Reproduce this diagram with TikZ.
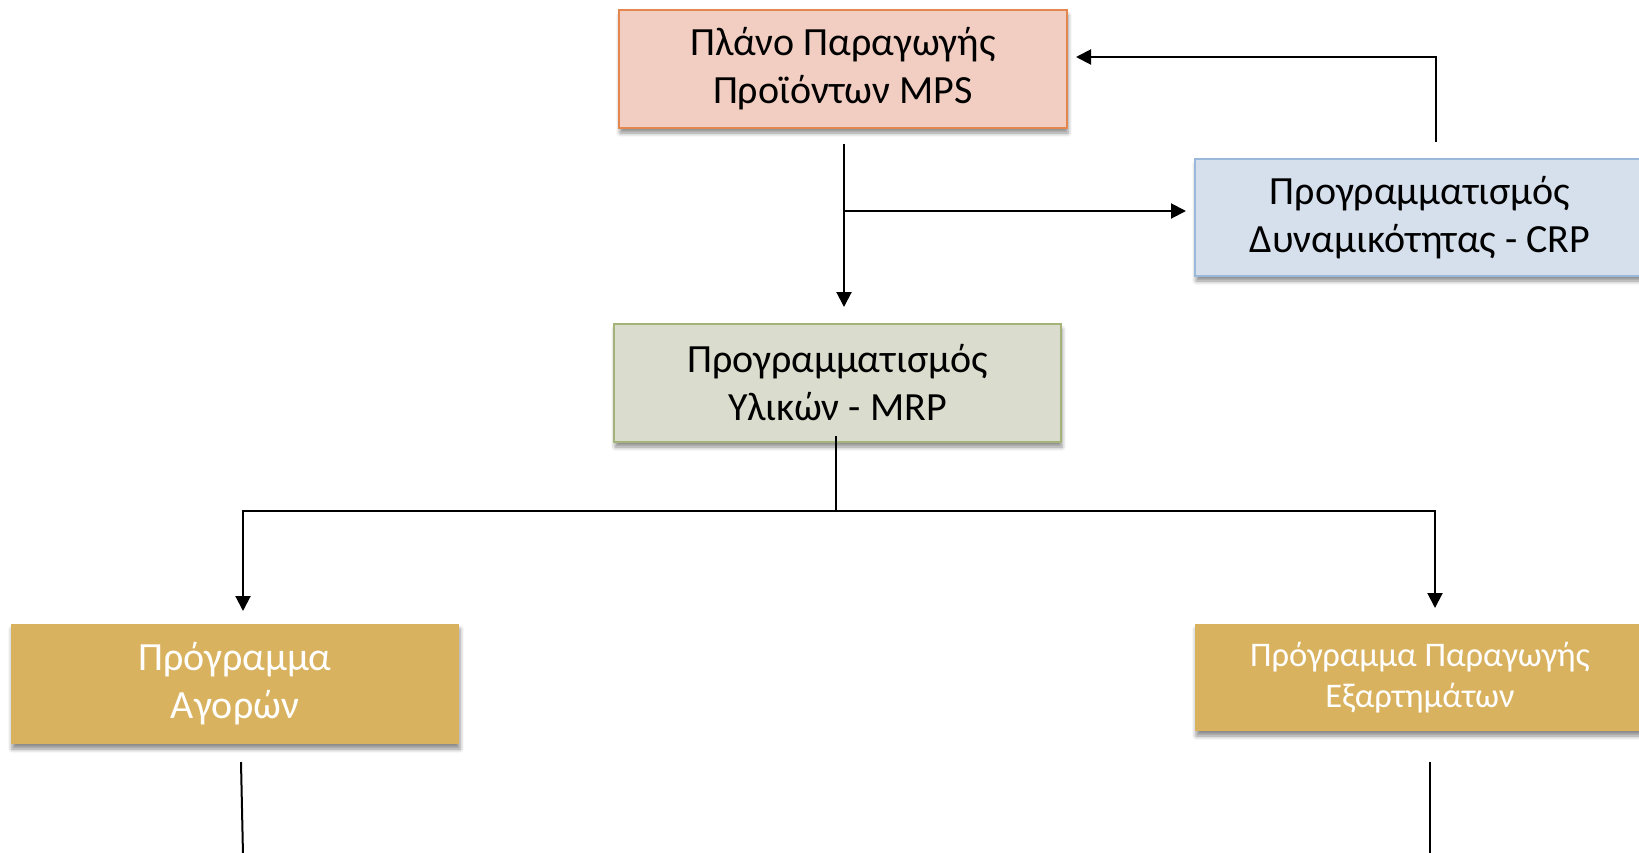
\documentclass[tikz,border=0pt]{standalone}
\usepackage{fontspec}
\setmainfont{Carlito}
\usetikzlibrary{arrows.meta,shadows.blur,calc}

\definecolor{mpsfill}{HTML}{F2CEC2}
\definecolor{mpsline}{HTML}{E3874E}
\definecolor{crpfill}{HTML}{D6E0EC}
\definecolor{crpline}{HTML}{9AB8DA}
\definecolor{mrpfill}{HTML}{DADCCD}
\definecolor{mrpline}{HTML}{A4B479}
\definecolor{gold}{HTML}{D9B25F}

\tikzset{
  box/.style={rectangle, inner sep=0pt, align=center, line width=2pt,
    font=\fontsize{40pt}{48pt}\selectfont,
    blur shadow={shadow xshift=1pt, shadow yshift=-5pt,
                 shadow blur radius=4pt, shadow opacity=45}},
  goldbox/.style={box, draw=none, fill=gold, text=white},
  link/.style={draw=black, line width=2pt},
  arr/.style={link, -{Triangle[width=15pt,length=15pt]}}
}

\begin{document}
\begin{tikzpicture}[x=1pt,y=-1pt]
\useasboundingbox (0,0) rectangle (1639,852);

% planning boxes
\node[box, fill=mpsfill, draw=mpsline, minimum width=448pt, minimum height=118pt]
  (mps) at (843,69) {Πλάνο Παραγωγής\\Προϊόντων MPS};
\node[box, fill=crpfill, draw=crpline, minimum width=450pt, minimum height=117pt]
  (crp) at (1420,217.5) {Προγραμματισμός\\Δυναμικότητας - CRP};
\node[box, fill=mrpfill, draw=mrpline, minimum width=447pt, minimum height=118pt]
  (mrp) at (837.5,383) {Προγραμματισμός\\Υλικών - MRP};
\node[goldbox, minimum width=448pt, minimum height=120pt]
  (buy) at (235,684) {Πρόγραμμα\\Αγορών};
\node[goldbox, minimum width=450pt, minimum height=107pt,
      font=\fontsize{34.5pt}{41pt}\selectfont]
  (comp) at (1420,677.5) {Πρόγραμμα Παραγωγής\\Εξαρτημάτων};

% MPS -> MRP, with branch to CRP
\coordinate (a1) at ($(mps.south)+(1,15)$);
\coordinate (a2) at ($(mps.south)+(1,82)$);
\draw[arr, shorten >=16pt] (a1) -- (a1 |- mrp.north);
\draw[arr, shorten >=8pt] (a2) -- (a2 -| crp.west);

% CRP feedback to MPS
\coordinate (b1) at ($(crp.north)+(16,-16)$);
\coordinate (b2) at ($(b1 |- mps.north)+(0,48)$);
\draw[arr, shorten >=8pt] (b1) -- (b2) -- (b2 -| mps.east);

% MRP fan-out
\coordinate (m1) at ($(mrp.south)+(-1.5,-7)$);
\coordinate (m2) at ($(mrp.south)+(-1.5,68)$);
\draw[link] (m1) -- (m2);
\draw[arr, shorten >=12pt] (m2) -| ($(buy.north)+(8,0)$);
\draw[arr, shorten >=15pt] (m2) -| ($(comp.north)+(15,0)$);

% lines leaving the lower boxes
\draw[link] ($(buy.south)+(6,17)$) -- ($(buy.south)+(8,110)$);
\draw[link] ($(comp.south)+(10,30)$) -- ($(comp.south)+(10,123)$);
\end{tikzpicture}
\end{document}
